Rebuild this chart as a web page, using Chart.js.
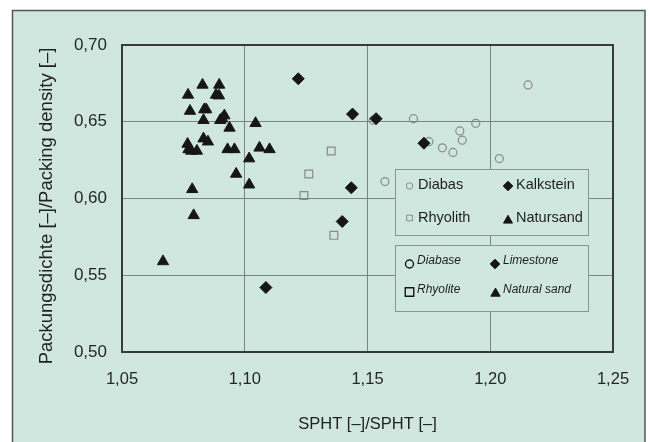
<!DOCTYPE html>
<html>
<head>
<meta charset="utf-8">
<script src="https://cdn.jsdelivr.net/npm/chart.js@4.4.1/dist/chart.umd.min.js"></script>
<style>
  html, body { margin: 0; padding: 0; background: #fff; }
  canvas { display: block; }
</style>
</head>
<body>
<canvas id="chart" width="650" height="442"></canvas>
<script>
// SPHT vs. packing density per aggregate
const diabasX = [1.1523, 1.1687, 1.1750, 1.1571, 1.2154, 1.1941, 1.1876, 1.1886, 1.1805, 1.1848, 1.2037];
const diabasY = [0.651, 0.652, 0.637, 0.611, 0.674, 0.649, 0.644, 0.638, 0.633, 0.630, 0.626];

const kalksteinX = [1.1218, 1.1439, 1.1535, 1.1730, 1.1434, 1.1397, 1.1086];
const kalksteinY = [0.678, 0.655, 0.652, 0.636, 0.607, 0.585, 0.542];

const rhyolithX = [1.1352, 1.1261, 1.1241, 1.1363];
const rhyolithY = [0.631, 0.616, 0.602, 0.576];

const natursandX = [1.0828, 1.0896, 1.0769, 1.0883, 1.0895, 1.0777, 1.0835, 1.0843, 1.0832, 1.0900,
                    1.0908, 1.0917, 1.0938, 1.1044, 1.0767, 1.0771, 1.0782, 1.0805, 1.0832, 1.0850,
                    1.0930, 1.0958, 1.1060, 1.1101, 1.1018, 1.0965, 1.1018, 1.0786, 1.0792, 1.0667];
const natursandY = [0.674, 0.674, 0.6675, 0.6675, 0.667, 0.657, 0.658, 0.658, 0.651, 0.651,
                    0.652, 0.654, 0.646, 0.649, 0.6355, 0.632, 0.631, 0.631, 0.639, 0.637,
                    0.632, 0.632, 0.633, 0.632, 0.626, 0.616, 0.609, 0.606, 0.589, 0.559];

const xTicks = [1.05, 1.10, 1.15, 1.20, 1.25];
const yTicks = [0.50, 0.55, 0.60, 0.65, 0.70];

const legendDe = ['Diabas', 'Kalkstein', 'Rhyolith', 'Natursand'];
const legendEn = ['Diabase', 'Limestone', 'Rhyolite', 'Natural sand'];

const BG = 'rgb(207,231,222)';
const GREY = '#8a8a8a';
const DARK = '#161616';
const FONT = "'Liberation Sans', Arial, sans-serif";

function toPoints(xs, ys) {
  return xs.map((x, i) => ({ x: x, y: ys[i] }));
}

function comma(v) {
  return v.toFixed(2).replace('.', ',');
}

function marker(ctx, style, r, x, y, filled, color, lw) {
  ctx.save();
  ctx.fillStyle = filled ? color : BG;
  ctx.strokeStyle = color;
  ctx.lineWidth = lw;
  Chart.helpers.drawPoint(ctx, { pointStyle: style, radius: r, rotation: 0, borderWidth: lw }, x, y);
  ctx.restore();
}

function legendBox(ctx, left, top, w, h) {
  ctx.fillStyle = BG;
  ctx.fillRect(left, top, w, h);
  ctx.strokeStyle = '#8b9692';
  ctx.lineWidth = 1;
  ctx.strokeRect(left, top, w, h);
}

const panel = {
  id: 'panel',
  beforeDraw(chart) {
    const ctx = chart.ctx;
    ctx.save();
    ctx.fillStyle = '#fff';
    ctx.fillRect(0, 0, chart.width, chart.height);
    ctx.fillStyle = BG;
    ctx.fillRect(12.5, 10.5, 632.5, 440);
    ctx.strokeStyle = '#555';
    ctx.lineWidth = 1.5;
    ctx.strokeRect(12.5, 10.5, 632.5, 450);
    ctx.restore();
  },
  beforeDatasetsDraw(chart) {
    const ctx = chart.ctx;
    const a = chart.chartArea;
    ctx.save();
    ctx.strokeStyle = '#3a3a3a';
    ctx.lineWidth = 2;
    ctx.strokeRect(a.left, a.top, a.right - a.left, a.bottom - a.top);
    ctx.restore();
  },
  afterDatasetsDraw(chart) {
    const ctx = chart.ctx;
    ctx.save();

    // German legend
    legendBox(ctx, 395.5, 169.5, 193, 66);
    ctx.font = '14.5px ' + FONT;
    ctx.fillStyle = '#1e1e1e';
    ctx.textBaseline = 'middle';
    ctx.textAlign = 'left';
    ctx.fillText(legendDe[0], 418, 185);
    ctx.fillText(legendDe[1], 516, 185);
    ctx.fillText(legendDe[2], 418, 218);
    ctx.fillText(legendDe[3], 516, 218);
    marker(ctx, 'circle', 3.2, 409.5, 186, false, GREY, 1);
    marker(ctx, 'rectRot', 4.8, 508, 186, true, DARK, 1);
    marker(ctx, 'rect', 4, 409.5, 218, false, GREY, 1);
    marker(ctx, 'triangle', 5.2, 508, 220.5, true, DARK, 1);

    // English legend
    legendBox(ctx, 395.5, 245.5, 193, 66);
    ctx.font = 'italic 12px ' + FONT;
    ctx.fillStyle = '#1e1e1e';
    ctx.fillText(legendEn[0], 417, 261);
    ctx.fillText(legendEn[1], 503, 261);
    ctx.fillText(legendEn[2], 417, 289.5);
    ctx.fillText(legendEn[3], 503, 289.5);
    marker(ctx, 'circle', 4, 409.5, 264, false, DARK, 1.4);
    marker(ctx, 'rectRot', 4.8, 495, 264, true, DARK, 1);
    marker(ctx, 'rect', 6, 409.5, 292, false, DARK, 1.4);
    marker(ctx, 'triangle', 5.4, 495.5, 293.5, true, DARK, 1);

    // y axis title
    ctx.translate(47, 206);
    ctx.rotate(-Math.PI / 2);
    ctx.textAlign = 'center';
    ctx.font = '18.5px ' + FONT;
    ctx.fillStyle = '#222';
    ctx.fillText('Packungsdichte [–]/Packing density [–]', 0, 0);
    ctx.restore();
  }
};

new Chart(document.getElementById('chart'), {
  type: 'scatter',
  data: {
    datasets: [
      {
        label: 'Kalkstein',
        data: toPoints(kalksteinX, kalksteinY),
        pointStyle: 'rectRot',
        pointRadius: 6,
        backgroundColor: DARK,
        borderColor: DARK,
        borderWidth: 1
      },
      {
        label: 'Natursand',
        data: toPoints(natursandX, natursandY),
        pointStyle: 'triangle',
        pointRadius: 6.5,
        backgroundColor: DARK,
        borderColor: DARK,
        borderWidth: 1
      },
      {
        label: 'Rhyolith',
        data: toPoints(rhyolithX, rhyolithY),
        pointStyle: 'rect',
        pointRadius: 5.5,
        backgroundColor: 'rgba(0,0,0,0)',
        borderColor: GREY,
        borderWidth: 1.2
      },
      {
        label: 'Diabas',
        data: toPoints(diabasX, diabasY),
        pointStyle: 'circle',
        pointRadius: 4,
        backgroundColor: 'rgba(0,0,0,0)',
        borderColor: GREY,
        borderWidth: 1.2
      }
    ]
  },
  options: {
    responsive: false,
    animation: false,
    events: [],
    layout: { padding: { left: 0, right: 37, top: 45, bottom: 0 } },
    plugins: {
      legend: { display: false },
      tooltip: { enabled: false }
    },
    scales: {
      x: {
        type: 'linear',
        min: xTicks[0],
        max: xTicks[xTicks.length - 1],
        afterBuildTicks: (s) => { s.ticks = xTicks.map(v => ({ value: v })); },
        afterFit: (s) => { s.height = 90; },
        grid: { color: '#7a8581', lineWidth: 1, drawTicks: false },
        border: { display: false },
        ticks: {
          padding: 18,
          color: '#262626',
          font: { family: FONT, size: 16.5 },
          callback: (v) => comma(v)
        },
        title: {
          display: true,
          text: 'SPHT [–]/SPHT [–]',
          color: '#222',
          font: { family: FONT, size: 16.5 },
          padding: { top: 0, bottom: 8 }
        }
      },
      y: {
        type: 'linear',
        min: yTicks[0],
        max: yTicks[yTicks.length - 1],
        afterBuildTicks: (s) => { s.ticks = yTicks.map(v => ({ value: v })); },
        afterFit: (s) => { s.width = 122; },
        grid: { color: '#7a8581', lineWidth: 1, drawTicks: false },
        border: { display: false },
        ticks: {
          padding: 15,
          color: '#262626',
          font: { family: FONT, size: 17 },
          callback: (v) => comma(v)
        }
      }
    }
  },
  plugins: [panel]
});
</script>
</body>
</html>
